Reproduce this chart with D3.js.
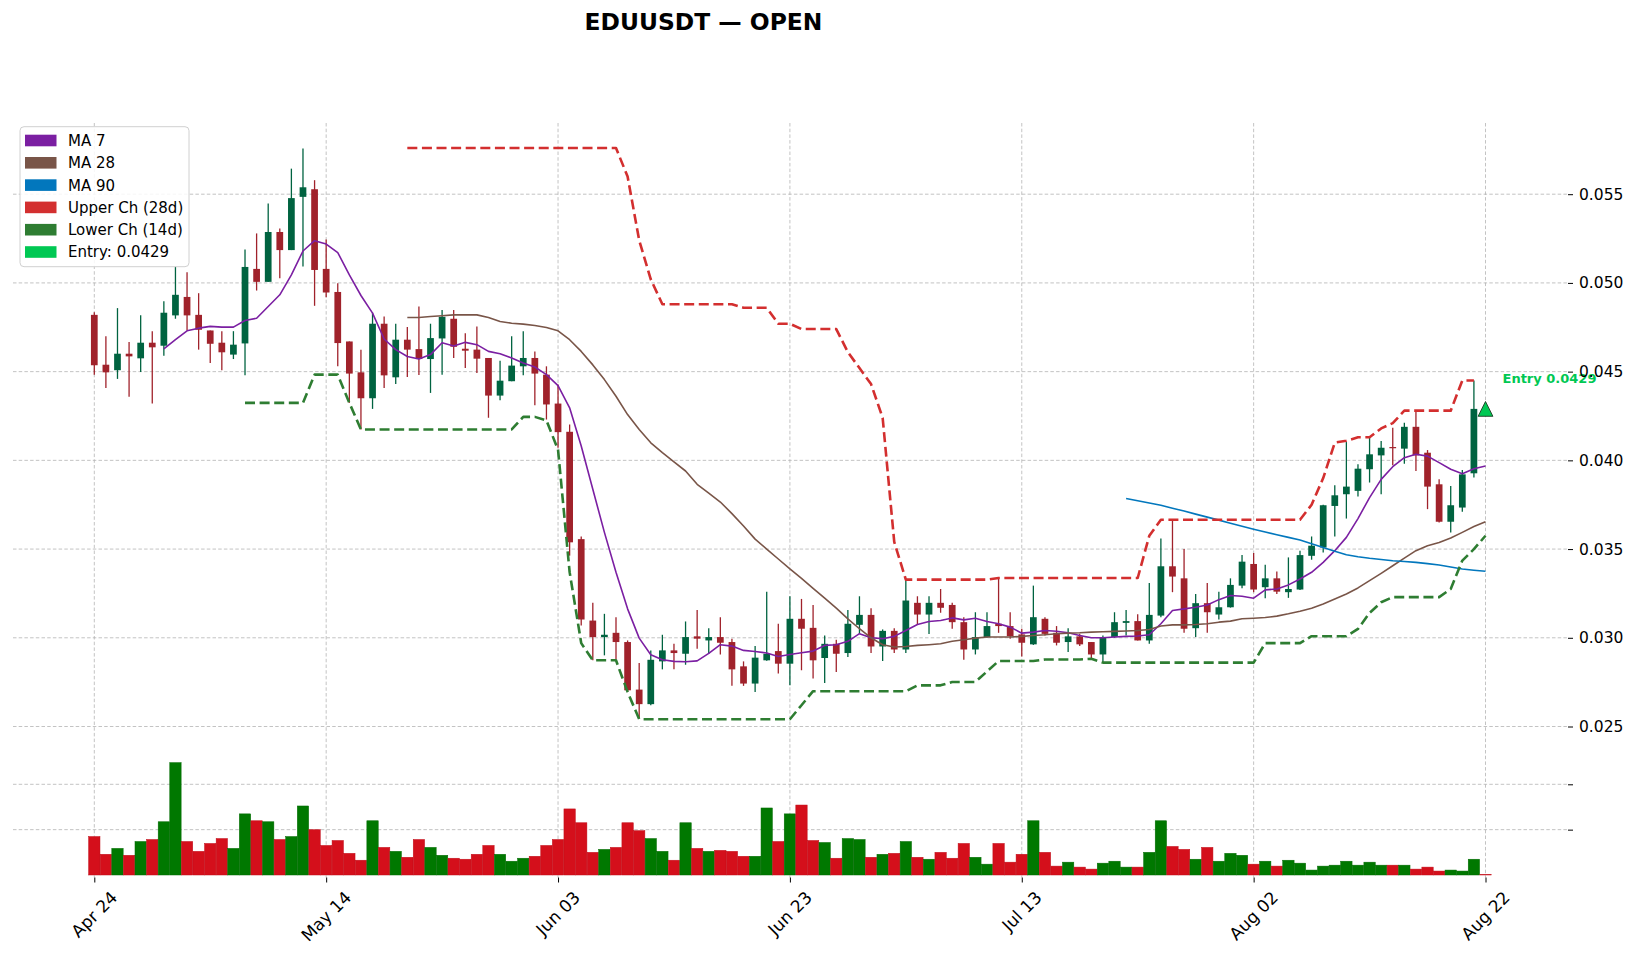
<!DOCTYPE html>
<html><head><meta charset="utf-8">
<script src="https://cdn.jsdelivr.net/npm/d3@7"></script>
<style>
body{margin:0;background:#fff;}
svg{display:block;font-family:"DejaVu Sans",sans-serif;}
</style>
</head><body>
<svg id="chart" width="1638" height="955"></svg>
<script>
// ---------------- DATA ----------------
const startDate = "2025-04-24";
const opens  = [.04820,.04539,.04508,.04601,.04575,.04663,.04646,.04817,.04921,.04820,.04732,.04663,.04596,.04659,.05079,.05006,.05287,.05185,.05485,.05528,
.05079,.04949,.04670,.04496,.04350,.04770,.04468,.04680,.04627,.04571,.04687,.04798,.04629,.04624,.04577,.04365,.04446,.04530,.04577,.04483,
.04320,.04161,.03556,.03097,.03004,.03028,.02976,.02708,.02626,.02867,.02929,.02910,.03008,.02985,.03004,.02976,.02839,.02742,.02873,.02925,
.02854,.03107,.03056,.02886,.02966,.02914,.03073,.03129,.02951,.03039,.02934,.03197,.03131,.03197,.03185,.03088,.02934,.03004,.03079,.03066,
.03019,.02963,.03107,.03028,.02976,.03008,.02976,.02906,.03004,.03084,.03094,.02985,.03125,.03403,.03335,.03054,.03195,.03131,.03172,.03294,
.03416,.03285,.03335,.03257,.03272,.03462,.03509,.03743,.03809,.03828,.03950,.04028,.04075,.04066,.04189,.04043,.03865,.03654,.03734,.03927,.04290];
const highs  = [.04835,.04699,.04858,.04667,.04818,.04728,.04897,.05092,.05060,.04942,.04732,.04728,.04728,.05189,.05279,.05448,.05307,.05644,.05757,.05579,
.05245,.04998,.04670,.04624,.04833,.04811,.04770,.04751,.04867,.04770,.04848,.04848,.04717,.04755,.04577,.04562,.04699,.04727,.04614,.04530,
.04427,.04202,.03571,.03197,.03135,.03116,.02985,.02858,.02929,.03017,.02966,.03092,.03157,.03054,.03116,.02995,.02867,.02953,.03260,.03079,
.03234,.03219,.03185,.03013,.02989,.03157,.03234,.03167,.03047,.03054,.03328,.03234,.03234,.03275,.03197,.03116,.03144,.03144,.03341,.03144,
.03051,.03294,.03116,.03066,.03054,.03023,.02976,.03013,.03144,.03157,.03133,.03309,.03560,.03665,.03500,.03247,.03309,.03260,.03335,.03466,
.03478,.03412,.03373,.03453,.03491,.03571,.03750,.03860,.04103,.03978,.04133,.04109,.04184,.04212,.04277,.04058,.03893,.03856,.03946,.04450,.04292];
const lows   = [.04483,.04408,.04459,.04358,.04498,.04320,.04590,.04798,.04732,.04624,.04549,.04508,.04571,.04479,.04957,.05006,.05026,.05185,.05092,.04871,
.04919,.04530,.04324,.04174,.04290,.04408,.04431,.04470,.04481,.04380,.04483,.04577,.04521,.04493,.04240,.04339,.04446,.04479,.04311,.04230,
.04071,.03463,.03069,.02873,.02901,.02878,.02695,.02545,.02620,.02822,.02822,.02848,.02938,.02910,.02906,.02729,.02729,.02695,.02870,.02798,
.02732,.02817,.02770,.02745,.02807,.02891,.03022,.02914,.02869,.02914,.02914,.03073,.03022,.03141,.03051,.02876,.02906,.03000,.03028,.02994,
.02895,.02960,.03013,.02957,.02920,.02953,.02886,.02863,.03000,.03013,.02985,.02966,.03116,.03257,.03028,.03004,.03028,.03103,.03170,.03279,
.03257,.03223,.03247,.03225,.03270,.03440,.03481,.03571,.03672,.03796,.03875,.03809,.03972,.03981,.03940,.03725,.03650,.03594,.03710,.03903,.04288];
const closes = [.04536,.04496,.04601,.04586,.04663,.04637,.04832,.04933,.04817,.04736,.04657,.04609,.04652,.05090,.05006,.05287,.05185,.05478,.05539,.05073,
.04946,.04661,.04489,.04350,.04770,.04479,.04680,.04624,.04571,.04689,.04809,.04640,.04618,.04573,.04365,.04449,.04534,.04577,.04489,.04315,
.04159,.03538,.03103,.03004,.03017,.02976,.02704,.02626,.02876,.02929,.02914,.03004,.02995,.03004,.02972,.02822,.02742,.02888,.02910,.02854,
.03107,.03051,.02873,.02966,.02910,.03079,.03129,.02951,.03039,.02934,.03210,.03131,.03197,.03169,.03088,.02934,.03004,.03066,.03066,.03009,
.02972,.03116,.03022,.02972,.03008,.02963,.02906,.03000,.03088,.03094,.02985,.03129,.03403,.03345,.03051,.03195,.03144,.03172,.03298,.03429,
.03272,.03335,.03260,.03275,.03466,.03519,.03747,.03803,.03852,.03953,.04034,.04071,.04070,.04189,.04028,.03852,.03654,.03747,.03921,.04290,.04289];
const volumes = [0.848,0.457,0.587,0.435,0.739,0.783,1.174,2.478,0.739,0.522,0.696,0.804,0.587,1.348,1.196,1.174,0.783,0.848,1.522,1.0,
0.652,0.761,0.478,0.326,1.196,0.609,0.522,0.391,0.783,0.609,0.435,0.370,0.348,0.457,0.652,0.457,0.304,0.370,0.413,0.652,
0.783,1.457,1.152,0.5,0.565,0.609,1.152,0.978,0.804,0.522,0.326,1.152,0.587,0.522,0.543,0.522,0.413,0.413,1.478,0.739,
1.348,1.543,0.761,0.717,0.370,0.804,0.783,0.391,0.457,0.478,0.739,0.391,0.348,0.5,0.370,0.696,0.391,0.239,0.696,0.283,
0.457,1.196,0.5,0.196,0.283,0.174,0.130,0.261,0.304,0.174,0.174,0.5,1.196,0.630,0.565,0.348,0.609,0.304,0.478,0.435,
0.239,0.304,0.196,0.326,0.261,0.109,0.196,0.217,0.304,0.217,0.283,0.217,0.217,0.217,0.130,0.174,0.087,0.109,0.087,0.348,0.012];

const ma7Start = 6;
const ma7 = [.04628,.04680,.04730,.04745,.04755,.04751,.04751,.04788,.04801,.04867,.04933,.05045,.05180,.05238,.05219,.05171,.05045,.04929,.04830,.04684,
.04624,.04585,.04571,.04596,.04663,.04644,.04665,.04652,.04614,.04601,.04577,.04549,.04526,.04483,.04421,.04296,.04081,.03837,.03594,.03369,
.03163,.02998,.02904,.02876,.02867,.02865,.02870,.02912,.02961,.02953,.02929,.02923,.02914,.02895,.02906,.02916,.02925,.02957,.02961,.02980,
.03023,.03000,.02995,.03008,.03041,.03075,.03092,.03097,.03112,.03101,.03110,.03092,.03079,.03060,.03026,.03032,.03041,.03037,.03028,.03013,
.03000,.03000,.03004,.03008,.03010,.03017,.03079,.03154,.03163,.03172,.03185,.03215,.03238,.03234,.03223,.03270,.03275,.03298,.03331,.03369,
.03425,.03491,.03566,.03672,.03790,.03893,.03964,.04015,.04034,.04024,.03987,.03950,.03925,.03953,.03968];
const ma28Start = 27;
const ma28 = [.04805,.04805,.04811,.04815,.04820,.04820,.04820,.04805,.04783,.04773,.04768,.04760,.04749,.04730,.04680,.04614,.04538,.04455,.04361,.04258,
.04174,.04099,.04043,.03991,.03940,.03865,.03815,.03765,.03700,.03630,.03556,.03500,.03444,.03388,.03335,.03279,.03223,.03167,.03107,.03051,
.03000,.02961,.02948,.02951,.02957,.02961,.02966,.02980,.02989,.02998,.03004,.03004,.03004,.03008,.03013,.03017,.03023,.03026,.03028,.03032,
.03034,.03036,.03038,.03041,.03047,.03066,.03073,.03073,.03075,.03079,.03088,.03094,.03107,.03110,.03114,.03122,.03135,.03150,.03167,.03191,
.03219,.03247,.03281,.03322,.03363,.03406,.03449,.03491,.03519,.03537,.03562,.03594,.03627,.03654];
const ma90Start = 89;
const ma90 = [.03785,.03772,.03760,.03747,.03730,.03714,.03697,.03680,.03663,.03646,.03629,.03612,.03596,.03581,.03566,.03551,.03530,.03509,.03488,.03468,
.03457,.03448,.03441,.03434,.03430,.03425,.03418,.03410,.03399,.03388,.03381,.03375];
const upperStart = 27;
const upperCh = [.0576,.0576,.0576,.0576,.0576,.0576,.0576,.0576,.0576,.0576,.0576,.0576,.0576,.0576,.0576,.0576,.0576,.0576,.0576,.0560,
.0524,.0502,.0488,.0488,.0488,.0488,.0488,.0488,.0488,.0486,.0486,.0486,.0477,.0477,.0474,.0474,.0474,.0474,.0461,.0452,
.0443,.0424,.0354,.03328,.03328,.03328,.03328,.03328,.03328,.03328,.03328,.03337,.03337,.03337,.03337,.03337,.03337,.03337,.03337,.03337,
.03337,.03337,.03337,.03337,.03575,.03665,.03665,.03665,.03665,.03665,.03665,.03665,.03665,.03665,.03665,.03665,.03665,.03665,.0375,.0390,
.0410,.0411,.0413,.0413,.0418,.0421,.0428,.0428,.0428,.0428,.0428,.0445,.0445];
const lowerStart = 13;
const lowerCh = [.04324,.04324,.04324,.04324,.04324,.04324,.04483,.04483,.04483,.04324,.04174,.04174,.04174,.04174,.04174,.04174,.04174,.04174,.04174,.04174,
.04174,.04174,.04174,.04174,.04245,.04245,.04225,.04060,.03370,.02970,.02873,.02873,.02873,.02695,.02541,.02541,.02541,.02541,.02541,.02541,
.02541,.02541,.02541,.02541,.02541,.02541,.02541,.02541,.02620,.02699,.02699,.02699,.02699,.02699,.02699,.02699,.02699,.02699,.02732,.02732,
.02732,.02751,.02751,.02751,.02810,.02869,.02869,.02869,.02869,.02878,.02878,.02878,.02878,.02882,.02860,.02860,.02860,.02860,.02860,.02860,
.02860,.02860,.02860,.02860,.02860,.02860,.02860,.02860,.02970,.02970,.02970,.02970,.03009,.03009,.03009,.03009,.03050,.03140,.03200,.03229,
.03229,.03229,.03229,.03229,.03275,.03435,.03500,.03575];
const entryPrice = 0.0429;
const entryIndex = 120;
const dateTickLabels = ["Apr 24","May 14","Jun 03","Jun 23","Jul 13","Aug 02","Aug 22"];
const priceTicks = [0.025,0.030,0.035,0.040,0.045,0.050,0.055];
const volumeTicks = [1,2];
const legendItems = ["MA 7","MA 28","MA 90","Upper Ch (28d)","Lower Ch (14d)","Entry: 0.0429"];
const titleText = "EDUUSDT \u2014 OPEN";

// ---------------- STYLE / LAYOUT ----------------
const C = {ma7:"#7b1fa2", ma28:"#795548", ma90:"#0277bd", upper:"#d32f2f", lower:"#2e7d32", entry:"#00c853",
  up:"#006340", down:"#a0222b", vup:"#007800", vdown:"#d40f1b", grid:"#b4b4b4"};
const legendColors = [C.ma7,C.ma28,C.ma90,C.upper,C.lower,C.entry];
const L = {left:13, right:1568, top:123, bottom:877.5};

const svg = d3.select("#chart");
const day = i => d3.utcDay.offset(new Date(startDate+"T00:00:00Z"), i);
const x = d3.scaleUtc().domain([day(0), day(120)]).range([94.3, 1485.5]);
const step = x(day(1)) - x(day(0));
const y = d3.scaleLinear().domain([0.025, 0.055]).range([726.5, 194.2]);
const yv = d3.scaleLinear().domain([0, 2]).range([875, 784.3]);
const tickDates = dateTickLabels.map(s => d3.utcParse("%b %d %Y")(s + " 2025"));

// grid
const g = svg.append("g");
g.selectAll(".vg").data(tickDates).join("line")
  .attr("x1", d=>x(d)).attr("x2", d=>x(d)).attr("y1", L.top).attr("y2", L.bottom)
  .attr("stroke", C.grid).attr("stroke-width", 0.8).attr("stroke-dasharray","3.5,2.2");
g.selectAll(".hg").data(priceTicks).join("line")
  .attr("x1", L.left).attr("x2", L.right).attr("y1", d=>y(d)).attr("y2", d=>y(d))
  .attr("stroke", C.grid).attr("stroke-width", 0.8).attr("stroke-dasharray","3.5,2.2");
g.selectAll(".vvg").data(volumeTicks).join("line")
  .attr("x1", L.left).attr("x2", L.right).attr("y1", d=>yv(d)).attr("y2", d=>yv(d))
  .attr("stroke", C.grid).attr("stroke-width", 0.8).attr("stroke-dasharray","3.5,2.2");

// volume bars
const idx = d3.range(opens.length);
svg.append("g").selectAll("rect").data(idx).join("rect")
  .attr("x", i => x(day(i)) - step*0.49).attr("width", step*0.98)
  .attr("y", i => yv(volumes[i])).attr("height", i => yv(0) - yv(volumes[i]))
  .attr("fill", i => closes[i] >= opens[i] ? C.vup : C.vdown)
  .attr("stroke", i => closes[i] >= opens[i] ? "#006a00" : "#c00d18").attr("stroke-width", 0.5);

// candles
const cg = svg.append("g");
const bw = step*0.58;
cg.selectAll("line").data(idx.slice(0,120)).join("line")
  .attr("x1", i=>x(day(i))).attr("x2", i=>x(day(i)))
  .attr("y1", i=>y(highs[i])).attr("y2", i=>y(lows[i]))
  .attr("stroke", i=> closes[i]>=opens[i]?C.up:C.down).attr("stroke-width",1.3);
cg.selectAll("rect").data(idx.slice(0,120)).join("rect")
  .attr("x", i=>x(day(i))-bw/2).attr("width", bw)
  .attr("y", i=>y(Math.max(opens[i],closes[i])))
  .attr("height", i=>Math.max(1.2, Math.abs(y(opens[i])-y(closes[i]))))
  .attr("fill", i=> closes[i]>=opens[i]?C.up:C.down);

// lines
function series(start, arr){ return arr.map((v,k)=>({i:start+k, v})); }
const line = d3.line().x(d=>x(day(d.i))).y(d=>y(d.v));
const lines = [
  {d:series(ma7Start,ma7), c:C.ma7, w:1.6, dash:null},
  {d:series(ma28Start,ma28), c:C.ma28, w:1.6, dash:null},
  {d:series(ma90Start,ma90), c:C.ma90, w:1.6, dash:null},
  {d:series(upperStart,upperCh), c:C.upper, w:2.6, dash:"10,4.6"},
  {d:series(lowerStart,lowerCh), c:C.lower, w:2.6, dash:"10,4.6"}
];
svg.append("g").selectAll("path").data(lines).join("path")
  .attr("d", s=>line(s.d)).attr("fill","none").attr("stroke", s=>s.c)
  .attr("stroke-width", s=>s.w).attr("stroke-dasharray", s=>s.dash)
  .attr("stroke-linejoin","round");

// entry marker
const ex = x(day(entryIndex)), ey = y(entryPrice);
svg.append("path").attr("d", d3.line()([[ex, ey-7.4],[ex-7.4, ey+7.4],[ex+7.4, ey+7.4]]) + "Z")
  .attr("fill", C.entry).attr("stroke","#1e3a24").attr("stroke-width",0.9);
svg.append("text").attr("x", ex+17).attr("y", y(entryPrice*1.04)).attr("dy","0.35em")
  .attr("fill", C.entry).attr("font-weight","bold").attr("font-size","13px").text("Entry " + entryPrice.toFixed(4));

// right price axis
const ra = svg.append("g").attr("transform",`translate(${L.right},0)`)
  .call(d3.axisRight(y).tickValues(priceTicks).tickFormat(d3.format(".3f")).tickSize(5).tickPadding(6));
ra.select(".domain").remove();
ra.selectAll("text").attr("font-size","15.5px").attr("font-family","DejaVu Sans").attr("fill","#000");
const va = svg.append("g").attr("transform",`translate(${L.right},0)`)
  .call(d3.axisRight(yv).tickValues(volumeTicks).tickFormat("").tickSize(5));
va.select(".domain").remove();

// bottom axis
const ba = svg.append("g").attr("transform",`translate(0,${L.bottom})`)
  .call(d3.axisBottom(x).tickValues(tickDates).tickSize(5).tickFormat(""));
ba.select(".domain").remove();
const lbl = svg.append("g");
const fs = 17;
tickDates.forEach((d,k)=>{
  const t = lbl.append("text").attr("font-size", fs+"px").attr("font-family","DejaVu Sans")
    .attr("text-anchor","end").attr("fill","#000").text(dateTickLabels[k]);
  const len = t.node().getComputedTextLength();
  const px = x(d) + 0.3535*len, py = 889 + 0.3535*fs*0.9;
  t.attr("transform",`translate(${px},${py}) rotate(-45)`).attr("dy","0.35em");
});

// title
svg.append("text").attr("x",703.5).attr("y",30).attr("text-anchor","middle")
  .attr("font-weight","bold").attr("font-size","23.4px").attr("fill","#000").text(titleText);

// legend
const lg = svg.append("g");
lg.append("rect").attr("x",20).attr("y",126.7).attr("width",169).attr("height",140).attr("rx",4)
  .attr("fill","#fff").attr("fill-opacity",0.85).attr("stroke","#d0d0d0").attr("stroke-width",1);
legendItems.forEach((name,k)=>{
  const cy = 140.5 + k*22.3;
  lg.append("rect").attr("x",25).attr("y",cy-5.8).attr("width",31.5).attr("height",11.6).attr("fill",legendColors[k]);
  lg.append("text").attr("x",68).attr("y",cy).attr("dy","0.36em").attr("font-size","15px").attr("fill","#000").text(name);
});
</script>
</body></html>
